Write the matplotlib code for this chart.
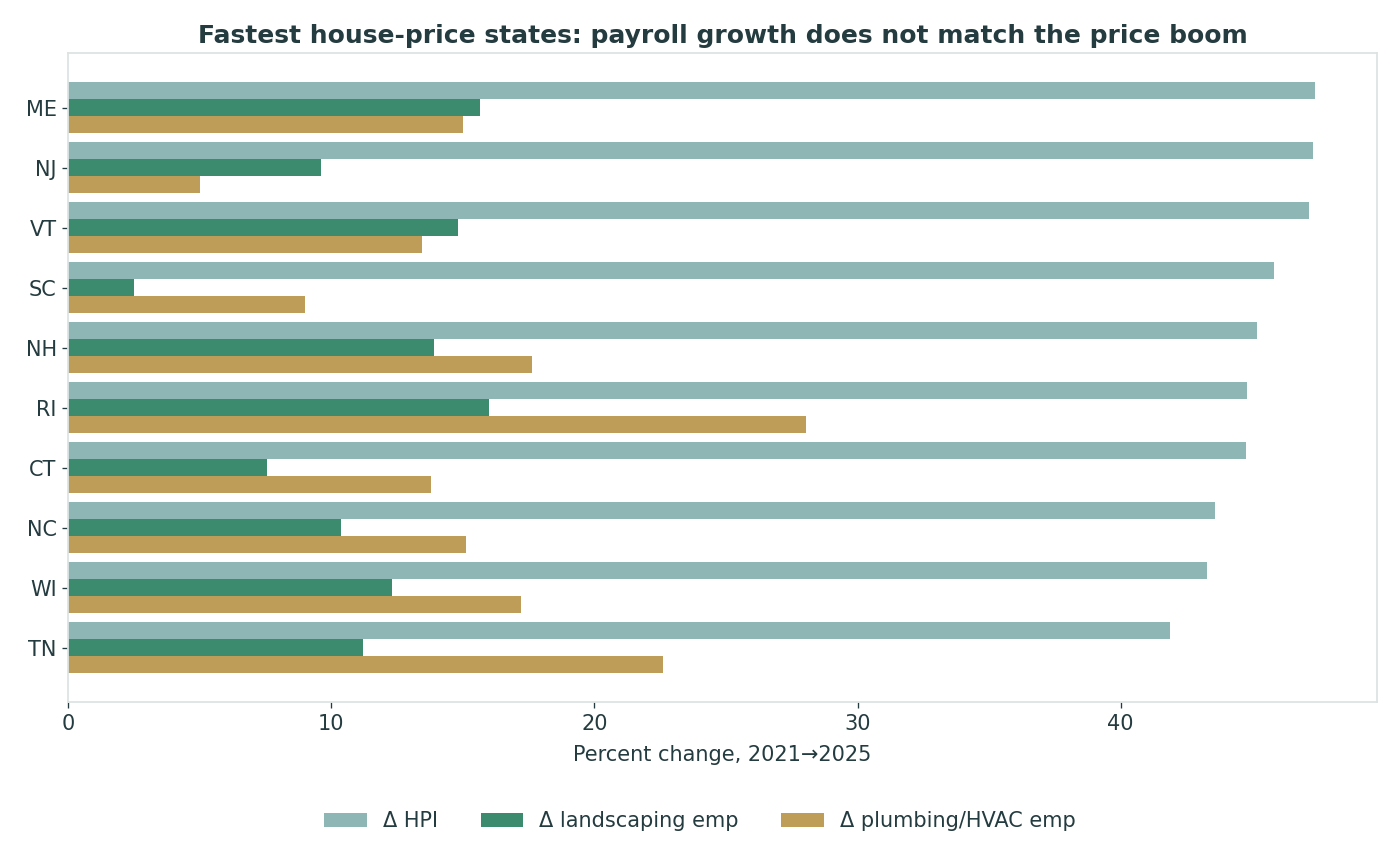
import matplotlib
matplotlib.use("Agg")
import matplotlib.pyplot as plt
import numpy as np

states = ["ME", "NJ", "VT", "SC", "NH", "RI", "CT", "NC", "WI", "TN"]
hpi = [47.37, 47.29, 47.14, 45.81, 45.17, 44.79, 44.75, 43.57, 43.27, 41.86]
landscaping = [15.65, 9.61, 14.81, 2.51, 13.90, 15.99, 7.56, 10.37, 12.31, 11.21]
plumbing = [15.00, 5.01, 13.45, 9.00, 17.63, 28.03, 13.79, 15.12, 17.21, 22.60]

series_labels = ["Δ HPI", "Δ landscaping emp", "Δ plumbing/HVAC emp"]
colors = ["#8db6b5", "#3c8b6e", "#bd9d58"]
text_c = "#243b3f"
spine_c = "#dde3e3"

fig, ax = plt.subplots(figsize=(14, 8.68), dpi=100)
fig.subplots_adjust(left=0.0486, right=0.9836, top=0.939, bottom=0.191)

y = np.arange(len(states))
h = 0.28
for i, (vals, lab, c) in enumerate(zip([hpi, landscaping, plumbing], series_labels, colors)):
    ax.barh(y + (i - 1) * h, vals, height=h, color=c, label=lab)

ax.set_yticks(y)
ax.set_yticklabels(states)
ax.invert_yaxis()
ax.set_xticks([0, 10, 20, 30, 40])
ax.tick_params(axis="both", colors=text_c, labelsize=15, length=4.1, width=0.95, pad=4.1)
for s in ax.spines.values():
    s.set_color(spine_c)
    s.set_linewidth(1.3)
ax.set_xlabel("Percent change, 2021→2025", color=text_c, fontsize=15, labelpad=8)
ax.set_title("Fastest house-price states: payroll growth does not match the price boom",
             color=text_c, fontsize=18, fontweight="bold", pad=7)
handles, labels = ax.get_legend_handles_labels()
leg = fig.legend(handles, labels, loc="center", bbox_to_anchor=(0.5, 0.054),
                 bbox_transform=fig.transFigure, ncol=3, frameon=False,
                 fontsize=15, handlelength=2.05, handletextpad=0.77, columnspacing=2.05)
for t in leg.get_texts():
    t.set_color(text_c)

fig.savefig("out.png", dpi=100, facecolor="white")
